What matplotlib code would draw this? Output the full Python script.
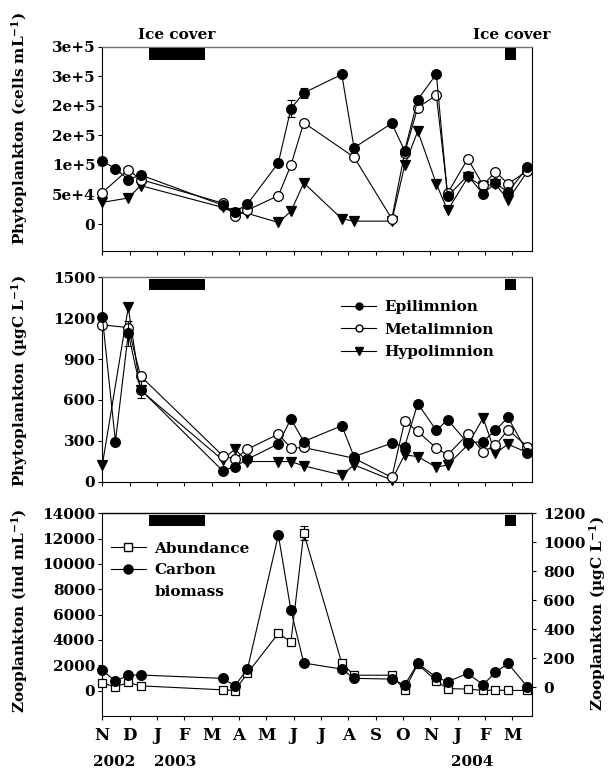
import numpy as np
import matplotlib
matplotlib.use("Agg")
import matplotlib.pyplot as plt
from matplotlib.patches import Rectangle
from matplotlib.lines import Line2D
from matplotlib.transforms import blended_transform_factory

plt.rcParams['font.family'] = ['DejaVu Serif']
plt.rcParams['font.size'] = 11
plt.rcParams['font.weight'] = 'bold'
plt.rcParams['mathtext.fontset'] = 'dejavuserif'
plt.rcParams['mathtext.default'] = 'bf'

nan = np.nan
# sampling dates, in month-tick units starting at Nov 2002
dates = [0.0, 0.48, 0.95, 1.40, 4.40, 4.85, 5.31, 6.44, 6.90, 7.37, 8.76,
         9.21, 10.59, 11.06, 11.54, 12.22, 12.63, 13.37, 13.93, 14.38, 14.84, 15.55]

month_labels = ['N', 'D', 'J', 'F', 'M', 'A', 'M', 'J', 'J', 'A', 'S', 'O', 'N', 'J', 'F', 'M']
year_labels = ['2002', '2003', '2004']
year_pos = [0.45, 2.68, 13.52]

ice_start = [1.72, 14.72]
ice_end = [3.74, 15.13]

# Phytoplankton abundance (cells mL-1)
epi_cells = [106400, 94000, 75300, 83200, 32000, 20900, 33900, 103600, 195400, 221900, 253100,
             129100, 170400, 124000, 210600, 253600, 47000, 82000, 51000, 70000, 53700, 96200]
meta_cells = [53200, nan, 92300, 75300, 35600, 14100, 23700, 48100, 99600, 171500, nan,
              113200, 9000, 120600, 197000, 218000, 52000, 110400, 65600, 88900, 68000, 90000]
hypo_cells = [36700, nan, 44100, 65100, 28300, 19000, 18100, 2800, 21500, 69600, 9000,
              5000, 5000, 99100, 157400, 68000, 23000, 79000, 64000, 68000, 40800, 89000]
epi_cells_err = {8: 14000, 9: 8500}

# Phytoplankton carbon (ugC L-1)
epi_C = [1212, 295, 1089, 676, 81, 111, 165, 278, 460, 295, 411,
         184, 283, 258, 573, 376, 455, 283, 295, 376, 472, 214]
meta_C = [1151, nan, 1131, 775, 192, 167, 239, 349, 246, 251, nan,
          172, 32, 443, 369, 246, 197, 349, 221, 266, 381, 258]
hypo_C = [123, nan, 1279, 671, 160, 239, 148, 148, 148, 116, 49,
          123, 12, 197, 184, 106, 123, 270, 467, 209, 275, 214]
epi_C_err = {2: 90, 3: 65}

# Zooplankton
abundance = [590, 300, 650, 380, 65, 10, 1380, 4520, 3850, 12440, 2170,
             1220, 1220, 65, 2090, 770, 170, 120, 20, 40, 20, 20]
abundance_err = {9: 550}
carbon = [117, 39, 83, 83, 60, 9, 124, 1050, 531, 166, 124,
          60, 55, 14, 163, 67, 37, 94, 16, 101, 163, 2]

fig = plt.figure(figsize=(6.1, 7.7), dpi=100)
W_PX, H_PX = 610.0, 770.0
L = 102.3 / W_PX
WID = 430.0 / W_PX


def make_ax(top_px, bot_px):
    return fig.add_axes([L, 1 - bot_px / H_PX, WID, (bot_px - top_px) / H_PX])


def style_ax(ax, top_color):
    ax.set_xlim(0, 15.73)
    ax.set_xticks(range(len(month_labels)))
    ax.tick_params(axis='both', direction='out', length=3, width=0.8, pad=2)
    ax.tick_params(axis='x', pad=5, labelsize=12)
    ax.tick_params(axis='y', right=False)
    for s in ['left', 'right', 'bottom']:
        ax.spines[s].set_linewidth(0.8)
        ax.spines[s].set_color('black')
    ax.spines['top'].set_color(top_color)
    ax.spines['top'].set_linewidth(1.0)
    tr = blended_transform_factory(ax.transData, ax.transAxes)
    for a, b in zip(ice_start, ice_end):
        ax.add_patch(Rectangle((a, 1 - 0.063), b - a, 0.055, transform=tr,
                               facecolor='black', edgecolor='none', zorder=5))


def series(ax, x, y, marker, face, ms, err=None, zorder=3):
    x = np.asarray(x, float)
    y = np.asarray(y, float)
    m = ~np.isnan(y)
    ax.plot(x[m], y[m], '-', color='black', lw=0.8, marker=marker, ms=ms,
            mfc=face, mec='black', mew=0.9, clip_on=False, zorder=zorder)
    if err:
        idx = list(err.keys())
        ax.errorbar(x[idx], y[idx], yerr=[err[i] for i in idx], fmt='none',
                    ecolor='black', elinewidth=0.8, capsize=3, capthick=0.8, zorder=zorder - 0.5)


# ---- top panel
ax1 = make_ax(46.7, 250.7)
style_ax(ax1, '#707070')
series(ax1, dates, hypo_cells, 'v', 'black', 7.5, zorder=3)
series(ax1, dates, meta_cells, 'o', 'white', 7.0, zorder=4)
series(ax1, dates, epi_cells, 'o', 'black', 7.0, err=epi_cells_err, zorder=5)
ax1.set_ylim(-45000, 300000)
ax1.set_yticks(np.arange(0, 300001, 50000))
ax1.set_yticklabels(['0', '5e+4', '1e+5', '2e+5', '2e+5', '3e+5', '3e+5'])
ax1.set_xticklabels([])
for a, b in zip(ice_start, ice_end):
    ax1.text((a + b) / 2 if b - a > 1 else 14.98, 1.025, 'Ice cover',
             transform=blended_transform_factory(ax1.transData, ax1.transAxes),
             ha='center', va='bottom')
fig.text(19.5 / W_PX, 1 - 128 / H_PX, 'Phytoplankton (cells mL$^{-1}$)', rotation=90,
         ha='center', va='center')

# ---- middle panel
ax2 = make_ax(277.3, 481.7)
style_ax(ax2, '#707070')
series(ax2, dates, hypo_C, 'v', 'black', 7.5, zorder=3)
series(ax2, dates, meta_C, 'o', 'white', 7.0, zorder=4)
series(ax2, dates, epi_C, 'o', 'black', 7.0, err=epi_C_err, zorder=5)
ax2.set_ylim(0, 1500)
ax2.set_yticks(np.arange(0, 1501, 300))
ax2.set_xticklabels([])
h = [Line2D([], [], color='black', lw=0.8, marker='o', mfc='black', mec='black', ms=5),
     Line2D([], [], color='black', lw=0.8, marker='o', mfc='white', mec='black', ms=5),
     Line2D([], [], color='black', lw=0.8, marker='v', mfc='black', mec='black', ms=5.5)]
ax2.legend(h, ['Epilimnion', 'Metalimnion', 'Hypolimnion'], loc='upper left',
           bbox_to_anchor=(0.555, 0.888), frameon=False, handlelength=2.3,
           handletextpad=0.55, labelspacing=0.55, borderaxespad=0, borderpad=0)
fig.text(19.5 / W_PX, 1 - 381 / H_PX, 'Phytoplankton (µgC L$^{-1}$)', rotation=90,
         ha='center', va='center')

# ---- bottom panel
ax3 = make_ax(513.3, 716.0)
style_ax(ax3, 'black')
ax3b = ax3.twinx()
ax3b.set_position(ax3.get_position())
series(ax3, dates, abundance, 's', 'white', 6.0, err=abundance_err, zorder=4)
series(ax3b, dates, carbon, 'o', 'black', 7.0, zorder=5)
ax3.set_ylim(-2000, 14000)
ax3.set_yticks(np.arange(0, 14001, 2000))
ax3b.set_ylim(-200, 1200)
ax3b.set_yticks(np.arange(0, 1201, 200))
ax3b.tick_params(axis='y', direction='out', length=3, width=0.8, pad=5)
for s in ax3b.spines.values():
    s.set_visible(False)
ax3.spines['right'].set_visible(True)
ax3.set_xticklabels(month_labels)
tr3 = blended_transform_factory(ax3.transData, ax3.transAxes)
for yl, xp in zip(year_labels, year_pos):
    ax3.text(xp, -0.2255, yl, transform=tr3, ha='center', va='center')
hz = [Line2D([], [], color='black', lw=0.8, marker='s', mfc='white', mec='black', ms=5.5),
      Line2D([], [], color='black', lw=0.8, marker='o', mfc='black', mec='black', ms=6.5),
      Line2D([], [], color='none')]
ax3b.legend(hz, ['Abundance', 'Carbon', 'biomass'], loc='upper left',
            bbox_to_anchor=(0.02, 0.86), frameon=False, handlelength=2.3,
            handletextpad=0.55, labelspacing=0.5, borderaxespad=0, borderpad=0)
fig.text(19.5 / W_PX, 1 - 611 / H_PX, 'Zooplankton (ind mL$^{-1}$)', rotation=90,
         ha='center', va='center')
fig.text(598 / W_PX, 1 - 614 / H_PX, 'Zooplankton (µgC L$^{-1}$)', rotation=90,
         ha='center', va='center')

fig.savefig('out.png', dpi=100)
